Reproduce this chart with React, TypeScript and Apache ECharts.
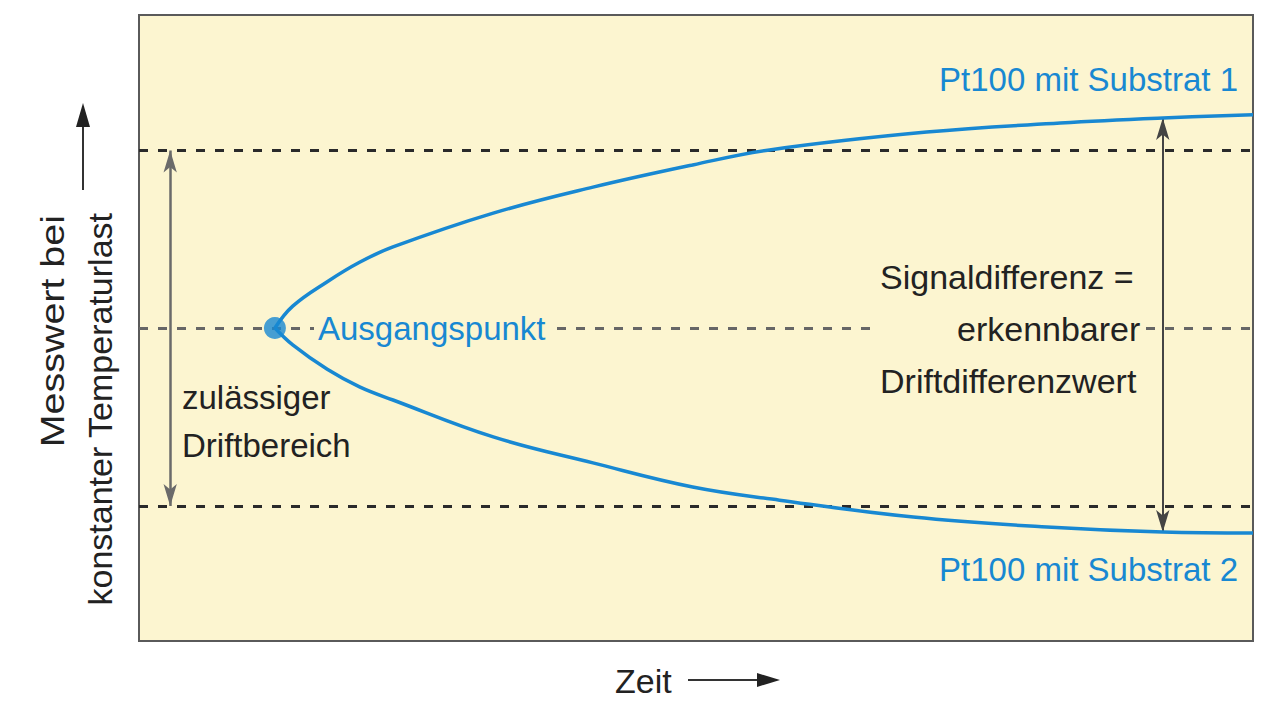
import React, { useEffect, useRef } from "react";
import * as echarts from "echarts";

// Curve data (time in % of plot width, measured value relative to start point)
const xSubstrat1 = [12.2, 13.8, 16.9, 19.8, 22.8, 31.8, 40.75, 49.7, 56.6, 70.7, 82.7, 91.9, 100];
const ySubstrat1 = [0, 7.0, 14.8, 21.0, 25.9, 36.7, 45.0, 52.1, 56.9, 62.6, 65.5, 67.1, 68.1];
const xSubstrat2 = [12.2, 13.8, 16.9, 19.8, 22.8, 31.8, 40.75, 49.7, 57.5, 69.5, 81.5, 91.9, 100];
const ySubstrat2 = [0, -5.4, -13.2, -18.8, -23.0, -34.8, -43.1, -50.8, -55.0, -60.4, -63.6, -65.2, -65.5];
const startPoint = [12.2, 0];
const driftLimits = [56.7, 0, -56.9];
const leftArrowX = 2.8;
const rightArrowX = 91.9;

const labels = {
  s1: "Pt100 mit Substrat 1",
  s2: "Pt100 mit Substrat 2",
  start: "Ausgangspunkt",
  drift1: "zulässiger",
  drift2: "Driftbereich",
  sig1: "Signaldifferenz =",
  sig2: "erkennbarer",
  sig3: "Driftdifferenzwert",
  y1: "Messwert bei",
  y2: "konstanter Temperaturlast",
  x: "Zeit",
};

const BLUE = "#1888d2";
const BG = "#fcf5d0";
const FONT = "'Liberation Sans', Arial, sans-serif";

export default function App() {
  const ref = useRef<HTMLDivElement>(null);
  useEffect(() => {
    if (!ref.current) return;
    const chart = echarts.init(ref.current, null, { renderer: "svg" });
    const zip = (xs: number[], ys: number[]) => xs.map((x, i) => [x, ys[i]]);
    const txt = (text: string, x: number, y: number, opts: any = {}) => ({
      type: "text",
      x,
      y,
      z: 100,
      rotation: opts.rotation || 0,
      scaleX: opts.scaleX || 1,
      style: {
        text,
        fill: opts.color || "#222",
        font: `${opts.size || 33}px ${FONT}`,
        textAlign: opts.align || "left",
        textVerticalAlign: "middle",
        backgroundColor: opts.bg,
        padding: opts.padding,
      },
    });
    chart.setOption({
      animation: false,
      backgroundColor: "#ffffff",
      grid: {
        left: 139,
        top: 15,
        width: 1114,
        height: 626,
        show: true,
        backgroundColor: BG,
        borderColor: "#5a5a5a",
        borderWidth: 2,
      },
      xAxis: { type: "value", min: 0, max: 100, show: false },
      yAxis: { type: "value", min: -100, max: 100, show: false },
      series: [
        {
          type: "line",
          data: [],
          silent: true,
          markLine: {
            silent: true,
            symbol: ["none", "none"],
            label: { show: false },
            data: driftLimits.map((v) => ({
              yAxis: v,
              lineStyle: {
                color: v === 0 ? "#666" : "#2a2a2a",
                width: 3,
                type: [9, 10],
              },
            })),
          },
        },
        {
          type: "line",
          data: [],
          silent: true,
          markLine: {
            silent: true,
            symbol: ["arrow", "arrow"],
            symbolSize: [10, 22],
            label: { show: false },
            data: [
              [
                { coord: [leftArrowX, driftLimits[0]], lineStyle: { color: "#6a6a6a", width: 2.5, type: "solid" }, itemStyle: { color: "#222" } },
                { coord: [leftArrowX, driftLimits[2]] },
              ],
              [
                { coord: [rightArrowX, ySubstrat1[11]], lineStyle: { color: "#444", width: 2, type: "solid" }, itemStyle: { color: "#1a1a1a" } },
                { coord: [rightArrowX, ySubstrat2[11]] },
              ],
            ],
          },
        },
        {
          name: labels.s1,
          type: "line",
          data: zip(xSubstrat1, ySubstrat1),
          smooth: 0.4,
          symbol: "none",
          lineStyle: { color: BLUE, width: 3.5 },
          z: 5,
        },
        {
          name: labels.s2,
          type: "line",
          data: zip(xSubstrat2, ySubstrat2),
          smooth: 0.4,
          symbol: "none",
          lineStyle: { color: BLUE, width: 3.5 },
          z: 5,
        },
        {
          type: "scatter",
          data: [startPoint],
          symbolSize: 22,
          itemStyle: { color: BLUE },
          z: 6,
        },
      ],
      graphic: [
        { type: "rect", z: 90, shape: { x: 878, y: 318, width: 268, height: 20 }, style: { fill: BG } },
        txt(labels.s1, 1238, 79, { color: BLUE, align: "right" }),
        txt(labels.s2, 1238, 569, { color: BLUE, align: "right" }),
        txt(labels.start, 314, 328, { color: BLUE, bg: BG, padding: [0, 6, 0, 4] }),
        txt(labels.drift1, 182, 397, {}),
        txt(labels.drift2, 182, 445, {}),
        txt(labels.sig1, 880, 277, { size: 34 }),
        txt(labels.sig2, 957, 329, { size: 34 }),
        txt(labels.sig3, 880, 381, { size: 34 }),
        txt(labels.y1, 52, 215, { size: 34, rotation: Math.PI / 2, align: "right", scaleX: 1.16 }),
        txt(labels.y2, 100, 213, { size: 34, rotation: Math.PI / 2, align: "right" }),
        txt(labels.x, 615, 681, { size: 34 }),
        { type: "line", shape: { x1: 83, y1: 190, x2: 83, y2: 120 }, style: { stroke: "#333", lineWidth: 2 } },
        { type: "polygon", shape: { points: [[83, 103], [76, 127], [90, 127]] }, style: { fill: "#222" } },
        { type: "line", shape: { x1: 688, y1: 680, x2: 765, y2: 680 }, style: { stroke: "#333", lineWidth: 2 } },
        { type: "polygon", shape: { points: [[780, 680], [757, 673], [757, 687]] }, style: { fill: "#222" } },
      ],
    });
    return () => chart.dispose();
  }, []);
  return (
    <div
      ref={ref}
      style={{ position: "fixed", left: 0, top: 0, width: 1280, height: 721 }}
    />
  );
}
